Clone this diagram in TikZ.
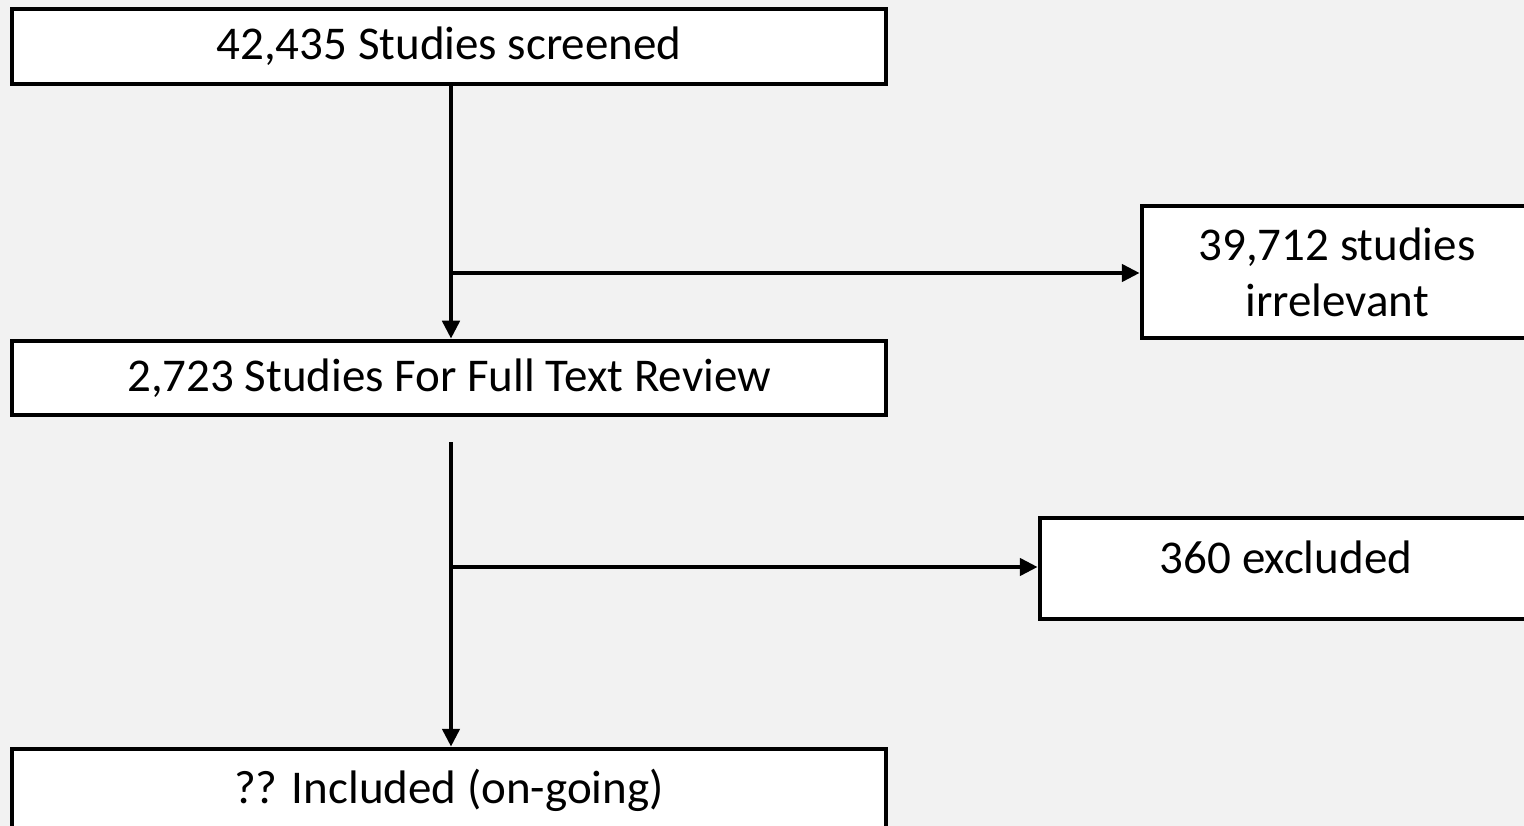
\documentclass[tikz,border=0pt]{standalone}
\usepackage{fontspec}
\setmainfont{Carlito}
\usetikzlibrary{arrows.meta}
\definecolor{bgc}{HTML}{F2F2F2}
\tikzset{
  boxnode/.style={draw=black, line width=4.5pt, fill=white, inner sep=0pt, align=center,
    font=\fontsize{47}{56}\selectfont},
  arr/.style={line width=4.5pt, -{Triangle[length=18pt,width=17pt]}},
}
\begin{document}
\begin{tikzpicture}[x=1pt,y=-1pt]
\useasboundingbox (0,0) rectangle (1524,826);
\clip (0,0) rectangle (1524,826);
\fill[bgc] (0,0) rectangle (1524,826);
\node[boxnode, minimum width=874pt, minimum height=75pt] (b1) at (449,46.5) {42,435 Studies screened};
\node[boxnode, minimum width=874pt, minimum height=74pt] (b3) at (449,378) {2,723 Studies For Full Text Review};
\node[boxnode, minimum width=874pt, minimum height=82pt] (b5) at (449,790) {?? Included (on-going)};
\node[boxnode, minimum width=390pt, minimum height=132pt] (b2) at (1337,272) {39,712 studies\\irrelevant};
\node[boxnode, minimum width=492pt, text height=55pt, text depth=46pt] (b4) at (1286,568.5) {360 excluded};
\coordinate (j1) at (451,273);
\coordinate (s2) at (451,442);
\coordinate (j2) at (451,567);
\draw[arr] (b1.south -| j1) -- (b3.north -| j1);
\draw[arr] (j1) -- (j1 -| b2.west);
\draw[arr] (s2) -- (b5.north -| s2);
\draw[arr] (j2) -- (j2 -| b4.west);
\end{tikzpicture}
\end{document}
